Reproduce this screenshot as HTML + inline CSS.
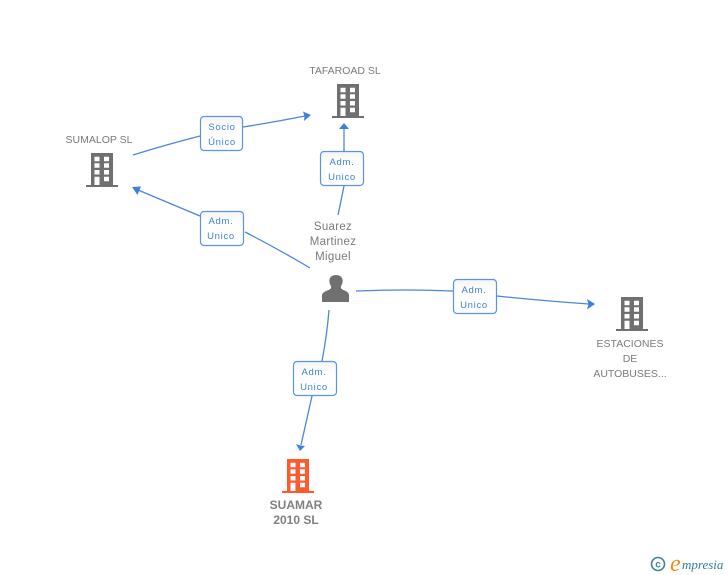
<!DOCTYPE html>
<html><head><meta charset="utf-8"><style>
html,body{margin:0;padding:0;background:#fff}
svg{display:block}
text{font-family:"Liberation Sans",sans-serif}
.n{font-size:10.5px;fill:#7a7a7a;text-anchor:middle}
.p{font-size:11.5px;fill:#7a7a7a;text-anchor:middle;letter-spacing:.3px}
.b{font-size:12px;font-weight:bold;fill:#808080;text-anchor:middle}
.l{font-size:9.5px;fill:#3f7fdc;text-anchor:middle;letter-spacing:.7px}
.c{fill:none;stroke:#4a86e0;stroke-width:1.3}
.a{fill:#3f7fdc}
.r{fill:url(#g);stroke:#5b94e6;stroke-width:1.2}
</style></head><body>
<svg width="728" height="575" viewBox="0 0 728 575" xmlns="http://www.w3.org/2000/svg">
<defs>
<linearGradient id="g" x1="0" y1="0" x2="0" y2="1"><stop offset="0" stop-color="#f4f4f4"/><stop offset=".35" stop-color="#fff"/></linearGradient>
<symbol id="bld" width="32" height="34" viewBox="0 0 32 34" overflow="visible">
<path fill="currentColor" fill-rule="evenodd" d="M5 0H27V32H32V34H0V32H5ZM8.5 3.7V8.2H13.500V3.700ZM18 3.700V8.200H23V3.700ZM8.500 10.300V14.800H13.500V10.300ZM18 10.300V14.800H23V10.300ZM8.500 17V21.500H13.500V17ZM18 17V21.500H23V17ZM8.500 23.700V32H13.500V23.700ZM18 23.700V28.200H23V23.700Z"/>
</symbol>
</defs>

<path class="c" d="M133 155Q165 145 200 136"/>
<path class="c" d="M243 127Q275 122 305 116"/>
<path class="a" d="M311 115L303 111.500L304.500 116.300L304 121Z"/>

<path class="c" d="M338 215Q341 201 344 186"/>
<path class="c" d="M344 151V129"/>
<path class="a" d="M344 123L339 129H349Z"/>

<path class="c" d="M310 268Q280 250 245 232"/>
<path class="c" d="M200 216L138 190"/>
<path class="a" d="M132 187L141 186.500L139 191L137.500 195Z"/>

<path class="c" d="M356 291Q405 289 453 291"/>
<path class="c" d="M497 296Q545 301 589 304"/>
<path class="a" d="M595 304L587 299L588.500 304L587 309.500Z"/>

<path class="c" d="M329 310Q327 335 322 361"/>
<path class="c" d="M312 396L301 445"/>
<path class="a" d="M300 451L296 444L300.500 445.500L305 446Z"/>

<rect class="r" x="200.500" y="116.500" width="42" height="34" rx="3.500"/>
<text class="l" x="222" y="130">Socio</text><text class="l" x="222" y="145">Único</text>
<rect class="r" x="320.500" y="151.500" width="43" height="34" rx="3.500"/>
<text class="l" x="342" y="165">Adm.</text><text class="l" x="342" y="180">Unico</text>
<rect class="r" x="200.500" y="211.500" width="43" height="34" rx="3.500"/>
<text class="l" x="221" y="224">Adm.</text><text class="l" x="221" y="239">Unico</text>
<rect class="r" x="453.500" y="279.500" width="43" height="34" rx="3.500"/>
<text class="l" x="474" y="293">Adm.</text><text class="l" x="474" y="308">Unico</text>
<rect class="r" x="293.500" y="361.500" width="43" height="34" rx="3.500"/>
<text class="l" x="314" y="375">Adm.</text><text class="l" x="314" y="390">Unico</text>

<use href="#bld" x="332" y="84" color="#707070"/>
<use href="#bld" x="86" y="153" color="#707070"/>
<use href="#bld" x="616" y="297" color="#707070"/>
<use href="#bld" x="282" y="459" color="#ff5a2e"/>

<path fill="#707070" d="M322 302V295.500C322 292.500 325 291.500 328.500 290C331 289 331.500 287.500 331 286C329.500 284 329 281.500 329.500 279.500C330 276.500 333 275 336 275C339 275 342 276.500 342.500 279.500C343 281.500 342.500 284 341 286C340.500 287.500 341 289 343.500 290C347 291.500 349 292.500 349 295.500V302Z"/>

<text class="n" x="345" y="74">TAFAROAD SL</text>
<text class="n" x="99" y="143">SUMALOP SL</text>
<text class="p" x="333" y="230">Suarez</text>
<text class="p" x="333" y="245">Martinez</text>
<text class="p" x="333" y="260">Miguel</text>
<text class="n" x="630" y="347">ESTACIONES</text>
<text class="n" x="630" y="362">DE</text>
<text class="n" x="630" y="377">AUTOBUSES...</text>
<text class="b" x="296" y="509">SUAMAR</text>
<text class="b" x="296" y="524">2010 SL</text>

<circle cx="658" cy="564" r="6.500" fill="none" stroke="#3f8296" stroke-width="1.600"/>
<text x="658" y="567.500" text-anchor="middle" style="font-size:10px;font-weight:bold;fill:#3f8296">c</text>
<text x="670" y="571" style="font-family:'Liberation Serif',serif;font-style:italic;font-size:24px;fill:#f08a1d">e</text>
<text x="682" y="569" style="font-family:'Liberation Serif',serif;font-style:italic;font-size:13px;fill:#2f7f95">mpresia</text>
</svg>
</body></html>
